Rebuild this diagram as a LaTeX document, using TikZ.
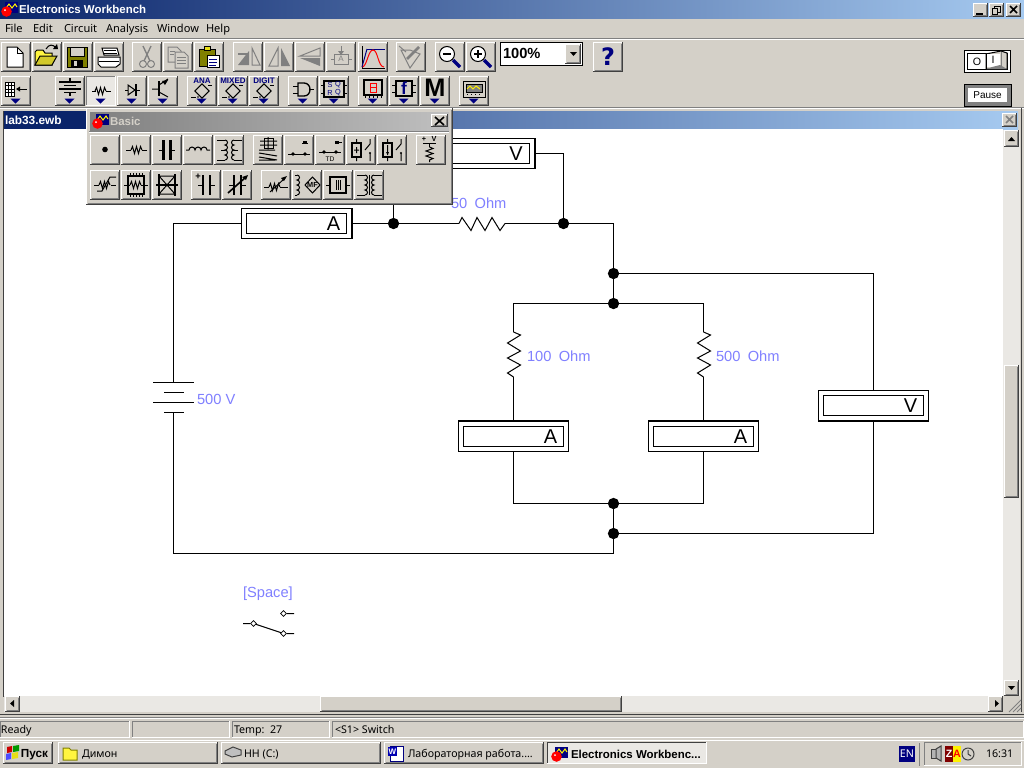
\documentclass[tikz,border=0pt]{standalone}
\usepackage{fontspec}
\setmainfont{Noto Sans}
\newfontfamily\arl{Liberation Sans}
\newfontfamily\djv{DejaVu Sans}
\usetikzlibrary{calc,shapes.geometric}
\definecolor{face}{HTML}{D4D0C8}
\definecolor{dith}{HTML}{EAE8E4}
\definecolor{navyb}{HTML}{0A246A}
\definecolor{skyb}{HTML}{A6CAF0}
\definecolor{lbl}{HTML}{8080FF}
\definecolor{dkb}{HTML}{000080}
\definecolor{olv}{HTML}{808000}
\definecolor{gr}{HTML}{808080}
\definecolor{dk}{HTML}{404040}
\newcommand\fs[1]{\fontsize{#1}{#1}\selectfont}
\newcounter{tc}
\newcommand\TX[4]{\stepcounter{tc}\node[txt,#1] (t\arabic{tc}) at (#2,#3) {#4};}
\newcommand\raised[4]{%
 \fill[face] (#1,#2) rectangle (#3,#4);
 \draw[px,white] (#1+.5,#4-1) -- (#1+.5,#2+.5) -- (#3-1,#2+.5);
 \draw[px,gr] (#1+1.5,#4-1.5) -- (#3-1.5,#4-1.5) -- (#3-1.5,#2+1.5);
 \draw[px,dk] (#1,#4-.5) -- (#3-.5,#4-.5) -- (#3-.5,#2);
}
\newcommand\sunken[4]{%
 \draw[px,gr] (#1+.5,#4) -- (#1+.5,#2+.5) -- (#3,#2+.5);
 \draw[px,white] (#1,#4-.5) -- (#3-.5,#4-.5) -- (#3-.5,#2);
}
\newcommand\TB[3]{\raised{#1}{#2}{#1+30}{#2+30}\begin{scope}[shift={(#1,#2)}]#3\end{scope}}
\newcommand\DA{\fill[dkb] (9.5,22.5)--(19.5,22.5)--(14.5,27.5)--cycle;}
\newcommand\ZZ[2]{\draw[px] (#1,#2)--++(1.5,-3.5)--++(2,7)--++(2,-7)--++(2,7)--++(2,-7)--++(1.5,3.5);}
\newcommand\appicon[2]{\begin{scope}[shift={(#1,#2)}]
 \fill[dkb] (4,.5) rectangle (17,12);
 \draw[px,yellow] (5,7)--(8,3)--(11,7)--(14,3)--(16,6);
 \fill[red] (5.5,10.5) circle (5.3);
 \fill[white] (4,9) circle (1);
\end{scope}}
\newcommand\Meter[5]{% name cx cy letter side
 \node[meter] (#1) at (#2,#3) {};
 \node[meteri] (#1i) at (#2,#3) {};
 \draw[line width=1.5pt] (#1.#5);
 \stepcounter{tc}\node[txt,font=\arl\fs{15}] (t\arabic{tc}) at (#2+37,#3) {#4};
}
\tikzset{
 px/.style={line width=.75pt},
 txt/.style={inner sep=0pt,outer sep=0pt,text=black},
 wire/.style={line width=.75pt,black},
 jn/.style={circle,fill=black,draw=none,minimum size=8.5pt,inner sep=0pt},
 meter/.style={draw=black,line width=.75pt,fill=white,minimum width=82.5pt,minimum height=22.5pt,inner sep=0pt},
 meteri/.style={draw=black,line width=.75pt,fill=white,minimum width=75pt,minimum height=15pt,inner sep=0pt},
 vlab/.style={font=\arl\fs{11},text=lbl},
 ttl/.style={font=\arl\bfseries\fs{8.6},text=white},
 mnu/.style={font=\fs{8.3},anchor=base west},
 sts/.style={font=\fs{8},anchor=base west},
 tbt/.style={font=\fs{8},anchor=base west},
 sdiam/.style={diamond,draw=black,fill=white,line width=.5pt,minimum size=4.5pt,inner sep=0pt},
}
\begin{document}
\begin{tikzpicture}[x=.75pt,y=-.75pt]
\useasboundingbox (0,0) rectangle (1024,768);
\fill[face] (0,0) rectangle (1024,768);
% ---- main title bar
\shade[left color=navyb,right color=skyb] (0,0) rectangle (1024,18);
\appicon{1}{1}
\TX{ttl,anchor=base west}{19}{13}{Electronics Workbench}
\raised{973}{3}{988}{17}\raised{989}{3}{1004}{17}\raised{1006}{3}{1021}{17}
\draw[line width=1.5pt] (976,14)--(983,14);
\draw[px] (994.5,6.5) rectangle (1000.5,12.5);
\draw[px,fill=face] (992.5,8.5) rectangle (997.5,14.5);
\draw[line width=1.1pt] (1010,6)--(1017,13) (1017,6)--(1010,13);
% ---- menu
\TX{mnu}{5}{32}{File}\TX{mnu}{33}{32}{Edit}\TX{mnu}{64}{32}{Circuit}\TX{mnu}{106}{32}{Analysis}\TX{mnu}{157}{32}{Window}\TX{mnu}{206}{32}{Help}
\draw[px,gr] (0,38.5)--(1024,38.5); \draw[px,white] (0,39.5)--(1024,39.5);
% ---- toolbar 1
\TB{1}{42}{\filldraw[px,fill=white] (6,5)--(16,5)--(22,11)--(22,25)--(6,25)--cycle;\draw[px] (16,5)--(16,11)--(22,11);}
\TB{32}{42}{\filldraw[px,fill=yellow!75!white] (3,23)--(3,10)--(5,8)--(11,8)--(13,11)--(20,11)--(20,23)--cycle;\filldraw[px,fill=yellow!60!olv] (3,23)--(8,14)--(25,14)--(20,23)--cycle;\draw[px] (14,7)..controls (17,2) and (21,2) ..(24,6);\fill (21,7)--(26,7)--(25,2)--cycle;}
\TB{63}{42}{\filldraw[px,fill=olv] (4,5) rectangle (24,25);\fill[face] (7,5) rectangle (21,14);\draw[px] (7,5) rectangle (21,14);\fill (8,18) rectangle (20,25);\fill[face] (11,19) rectangle (14,24);}
\TB{94}{42}{\filldraw[px,fill=white] (8,6)--(23,6)--(25,13)--(10,13)--cycle;\filldraw[px,fill=white] (4,15)--(26,15)--(26,22)--(22,25)--(7,25)--(4,22)--cycle;\draw[px] (10,8.5)--(22,8.5)(10,11)--(23,11)(5,19)--(25,19);}
\TB{132}{42}{\draw[line width=1pt,gr] (11,4)--(18,19)(19,4)--(12,19);\draw[px,gr] (11,22) circle (3.5)(19,22) circle (3.5);}
\TB{163}{42}{\filldraw[px,draw=gr,fill=face] (5,5)--(14,5)--(18,9)--(18,20)--(5,20)--cycle;\filldraw[px,draw=gr,fill=face] (12,10)--(21,10)--(25,14)--(25,26)--(12,26)--cycle;\draw[px,gr] (14,15)--(23,15)(14,18)--(23,18)(14,21)--(23,21)(7,9)--(12,9)(7,12)--(11,12);}
\TB{194}{42}{\filldraw[px,fill=olv] (5,7) rectangle (21,24);\filldraw[px,fill=yellow!80!olv] (10,4) rectangle (16,8);\filldraw[px,fill=white] (13,13) rectangle (25,25);\draw[px,dkb] (15,17)--(23,17)(15,20)--(23,20)(15,23)--(22,23);}
\TB{233}{42}{\fill[gr] (5,23)--(16,23)--(16,9)--cycle;\filldraw[px,draw=gr,fill=face] (19,23)--(27,23)--(19,6)--cycle;\draw[line width=1.2pt,gr] (5,12)--(14,12);}
\TB{264}{42}{\filldraw[px,draw=gr,fill=face] (5,24)--(14,24)--(14,6)--cycle;\fill[gr] (17,6)--(17,24)--(26,24)--cycle;}
\TB{295}{42}{\filldraw[px,draw=gr,fill=face] (5,14)--(25,6)--(25,14)--cycle;\fill[gr] (5,16)--(25,16)--(25,24)--cycle;}
\TB{326}{42}{\draw[px,gr] (15,4)--(15,10)(5,17)--(8,17)(22,17)--(26,17);\filldraw[px,draw=gr,fill=face] (8,12) rectangle (22,22);\fill[gr] (12,9)--(18,9)--(15,13)--cycle;\TX{font=\arl\fs{6},text=gr}{15}{17}{A}}
\TB{358}{42}{\draw[px] (4,4)--(4,26)--(27,26);\draw[px,dkb] (9,7)--(27,7);\draw[px,red] (4,25)..controls (9,25) and (10,8) .. (15,8)..controls (20,8) and (20,25)..(26,25);\draw[px,dkb] (4,25)--(9,7);}
\TB{396}{42}{\filldraw[px,draw=gr,fill=face] (5,8)--(14,26)--(24,12)--(14,8)--cycle;\draw[line width=2pt,gr] (11,17)--(23,5);\draw[px,gr] (3,4)--(10,10);}
\TB{435}{42}{\filldraw[px,fill=white] (12,12) circle (7.5);\draw[line width=1pt] (8,12)--(16,12);\draw[line width=2.5pt,dkb] (18,18)--(25,25);}
\TB{466}{42}{\filldraw[px,fill=white] (12,12) circle (7.5);\draw[line width=1pt] (8,12)--(16,12)(12,8)--(12,16);\draw[line width=2.5pt,dkb] (18,18)--(25,25);}
\filldraw[px,fill=white] (500.5,42.5) rectangle (582.5,65.5);
\TX{font=\arl\bfseries\fs{11},anchor=west}{503}{53}{100\%}
\raised{565}{44}{581}{64}\fill (570,52)--(577,52)--(573.5,56)--cycle;
\TB{593}{42}{\TX{font=\djv\bfseries\fs{18},text=dkb}{15}{15}{?}}
% power switch + pause
\filldraw[px,draw=black,fill=white] (964.5,50.5) rectangle (1010.5,72.5);
\draw[px] (967.5,53.5) rectangle (1007.5,69.5);
\filldraw[px,fill=face] (986,54)--(1001,51)--(1007,53)--(1007,69)--(986,69)--cycle;
\fill[white] (987,54) rectangle (1000,67);\draw[px] (986,53.5) -- (986,69);\fill[gr] (987,69)--(1007,69)--(1000,65)--(992,67)--cycle;
\draw[px,gr] (1001,52)--(1001,67);
\TX{font=\arl\fs{8}}{977}{62}{O}\TX{font=\arl\fs{8}}{993}{60}{I}
\filldraw[px,draw=black,fill=gr] (964.5,84.5) rectangle (1011,106);
\fill[white] (968,88) rectangle (1007,102);
\TX{font=\arl\fs{7.5}}{987.5}{95}{Pause}
% ---- toolbar 2
\TB{1}{76}{\DA\filldraw[px,fill=white] (4,6) rectangle (13,20);\draw[px] (7,6)--(7,20)(10,6)--(10,20)(4,9.5)--(13,9.5)(4,13)--(13,13)(4,16.5)--(13,16.5);\draw[px] (16,13)--(26,13);\fill (15,13)--(19,10.5)--(19,15.5)--cycle;}
\TB{55}{76}{\DA\draw[line width=1pt] (15,2)--(15,6)(4,6)--(26,6)(4,13)--(26,13)(15,16)--(15,20);\draw[px] (9,9.5)--(21,9.5)(9,16)--(21,16);}
\fill[dith] (86,76) rectangle (116,106);\draw[px,gr] (86.5,106)--(86.5,76.5)--(116,76.5);\draw[px,white] (86,105.5)--(115.5,105.5)--(115.5,76);
\begin{scope}[shift={(86,76)}]\DA\draw[px] (6,15)--(10,15)(20,15)--(25,15);\ZZ{9}{15}\end{scope}
\TB{117}{76}{\DA\draw[px] (8,14)--(23,14);\filldraw[px,fill=face] (11,9)--(11,19)--(18,14)--cycle;\draw[line width=1pt] (19,8)--(19,20);}
\TB{148}{76}{\DA\draw[line width=1.2pt] (11,5)--(11,20);\draw[px] (4,13)--(11,13)(11,9)--(20,3)(11,16)--(20,21);\fill (20,4)--(14,5)--(17,9)--cycle;}
\newcommand\ChipIc[1]{\DA\TX{font=\arl\bfseries\fs{6},text=dkb}{15}{5}{#1}\draw[px,rotate around={45:(15,15)}] (10,10) rectangle (20,20);\draw[px] (4,21)--(9,21)(21,9)--(25,9);\fill (11,21) circle (.8);}
\TB{187}{76}{\ChipIc{ANA}}
\TB{218}{76}{\ChipIc{MIXED}}
\TB{249}{76}{\ChipIc{DIGIT}}
\TB{288}{76}{\DA\draw[line width=1pt] (10,7)--(16,7)..controls (24,7) and (24,20) .. (16,20)--(10,20)--cycle;\draw[px] (5,10)--(10,10)(5,17)--(10,17)(21,13.5)--(26,13.5);}
\TB{319}{76}{\DA\filldraw[line width=1pt,fill=face] (5,5) rectangle (25,21);\draw[px] (2,9)--(5,9)(2,17)--(5,17)(25,9)--(28,9)(25,17)--(28,17);\TX{font=\arl\fs{5.5},text=dkb}{11}{9}{S}\TX{font=\arl\fs{5.5},text=dkb}{19}{9}{Q}\TX{font=\arl\fs{5.5},text=dkb}{11}{17}{R}\TX{font=\arl\fs{5.5},text=dkb}{19}{17}{Q}}
\TB{358}{76}{\DA\draw[line width=1pt] (6,4) rectangle (24,19);\draw[px,red] (12,7) rectangle (18,11.5)(12,11.5) rectangle (18,16);\draw[px] (7,19)--(7,22)(11,19)--(11,22)(15,19)--(15,22)(19,19)--(19,22)(23,19)--(23,22);}
\TB{389}{76}{\DA\draw[line width=1pt] (7,5) rectangle (23,20);\draw[px] (3,9)--(7,9)(3,16)--(7,16)(23,9)--(27,9)(23,16)--(27,16);\TX{font=\arl\bfseries\fs{13},text=dkb}{15}{12.5}{f}}
\TB{420}{76}{\DA\TX{font=\arl\bfseries\fs{19}}{15}{11.5}{M}}
\TB{459}{76}{\DA\filldraw[px,fill=face] (4,5) rectangle (26,21);\filldraw[px,fill=gr] (7,8) rectangle (23,16);\draw[px,yellow] (8,13)--(11,10)--(14,13)--(17,10)--(21,13);\draw[px] (8,18)--(9,18)(12,18)--(13,18)(16,18)--(17,18)(20,18)--(21,18);}
\draw[px,gr] (0,107.5)--(1024,107.5); \draw[px,white] (0,108.5)--(1024,108.5);
% ---- document window
\shade[left color=navyb!90!skyb,right color=skyb] (3,111) rectangle (1018,129);
\fill[navyb] (3,111) rectangle (86,129);
\TX{font=\arl\bfseries\fs{8.9},text=white,anchor=base west}{5}{124}{lab33.ewb}
\raised{1002}{113}{1017}{127}\draw[line width=1.1pt,gr] (1006,116)--(1013,123)(1013,116)--(1006,123);
\fill[white] (4,129) rectangle (1003,696);
\draw[px,dk] (3.5,111)--(3.5,697);
\draw[px,dk] (1021.5,108)--(1021.5,712);
% scrollbars
\fill[dith] (1003,130) rectangle (1020,696);
\raised{1004}{130}{1019}{147}\fill (1008,141)--(1015,141)--(1011.5,137)--cycle;
\raised{1004}{365}{1019}{498}
\raised{1004}{680}{1019}{696}\fill (1008,686)--(1015,686)--(1011.5,690)--cycle;
\fill[dith] (4,696) rectangle (1003,712);
\raised{5}{696}{20}{712}\fill (14,700)--(14,707)--(10,703.5)--cycle;
\raised{320}{696}{622}{712}
\raised{988}{696}{1003}{712}\fill (995,700)--(995,707)--(999,703.5)--cycle;
\fill[face] (1003,696) rectangle (1021,712);
\draw[px,gr] (1009,712)--(1021,700)(1013,712)--(1021,704)(1017,712)--(1021,708);
\draw[px,dk] (0,714.5)--(1024,714.5);
\draw[px,gr] (0,717.5)--(1024,717.5);\draw[px,white] (0,718.5)--(1024,718.5);
% ---- circuit
\begin{scope}
\node[jn] (j1) at (393.5,223.5) {};
\node[jn] (j2) at (563.5,223.5) {};
\node[jn] (j3) at (613.5,273.5) {};
\node[jn] (j4) at (613.5,303.5) {};
\node[jn] (j5) at (613.5,503.5) {};
\node[jn] (j6) at (613.5,533.5) {};
\coordinate (batt) at (173.5,382.5);
\coordinate (batb) at (173.5,412.5);
\coordinate (cTL) at (173.5,223.5);
\coordinate (cBL) at (173.5,553.5);
\coordinate (cBR) at (613.5,553.5);
\coordinate (cTR) at (613.5,223.5);
\coordinate (r0a) at (459,223.5);\coordinate (r0b) at (505,223.5);
\coordinate (r1a) at (513.5,332);\coordinate (r1b) at (513.5,377);
\coordinate (r2a) at (703.5,332);\coordinate (r2b) at (703.5,377);
\Meter{am0}{296.5}{223.5}{A}{north east) -- (am0.south east}
\Meter{vm0}{479}{153.5}{V}{north east) -- (vm0.south east}
\Meter{am1}{513.5}{436.5}{A}{north west) -- (am1.north east}
\Meter{am2}{703.5}{436.5}{A}{north west) -- (am2.north east}
\Meter{vm1}{873.5}{405.5}{V}{south west) -- (vm1.south east}
% wires
\draw[wire] (am0.west) -- (cTL) -- (batt);
\draw[wire] (batb) -- (cBL) -- (cBR) -- (j6);
\draw[wire] (am0.east) -- (j1) -- (r0a);
\draw[wire] (r0b) -- (j2) -- (cTR) -- (j3) -- (j4);
\draw[wire] (j1) |- (vm0.west);
\draw[wire] (vm0.east) -| (j2);
\draw[wire] (j3) -| (vm1.north);
\draw[wire] (vm1.south) |- (j6);
\draw[wire] (j5) -- (j6);
\draw[wire] (j4) -| (r1a);
\draw[wire] (j4) -| (r2a);
\draw[wire] (r1b) -- (am1.north);
\draw[wire] (r2b) -- (am2.north);
\draw[wire] (am1.south) |- (j5);
\draw[wire] (am2.south) |- (j5);
% resistors
\draw[px] (r0a)--++(3,-6)--++(9,13)--++(6,-13)--++(8,13)--++(7,-13)--++(8,13)--(r0b);
\draw[px] (r1a)--++(7,3)--++(-13,8)--++(13,8)--++(-13,7)--++(13,7)--++(-13,8)--(r1b);
\draw[px] (r2a)--++(7,3)--++(-13,8)--++(13,8)--++(-13,7)--++(13,7)--++(-13,8)--(r2b);
% battery
\draw[px] (153,382.5)--(194,382.5)(164,392.5)--(184,392.5)(153,402.5)--(194,402.5)(164,412.5)--(184,412.5);
% labels
\node[txt,vlab,anchor=west] (l0) at (451,203) {50\,\,\,Ohm};
\node[txt,vlab,anchor=west] (l1) at (527,356) {100\,\,\,Ohm};
\node[txt,vlab,anchor=west] (l2) at (716,356) {500\,\,\,Ohm};
\node[txt,vlab,anchor=west] (l3) at (197,399) {500 V};
\node[txt,vlab,anchor=west] (l4) at (243,593.5) {[Space]};
% switch
\node[sdiam] (s1) at (253.5,623.5) {};
\node[sdiam] (s2) at (283.5,633.5) {};
\node[sdiam] (s3) at (283.5,613.5) {};
\coordinate (sa) at (243,623.5);\coordinate (sb) at (294,633.5);\coordinate (sc) at (294,613.5);
\draw[px] (sa)--(s1)(s1)--(s2)(s2)--(sb)(s3)--(sc);
\end{scope}
% ---- Basic palette
\raised{86}{108}{453}{205}
\shade[left color=gr,right color=gr!50!white] (90,112) rectangle (449,130);
\appicon{92}{113}
\TX{font=\arl\bfseries\fs{8.6},text=face,anchor=base west}{110}{125}{Basic}
\raised{431}{114}{448}{127}\draw[line width=1.2pt] (435,117)--(444,125)(444,117)--(435,125);
\draw[px,gr] (89,131.5)--(449,131.5);\draw[px,white] (89,132.5)--(449,132.5);
\TB{90}{135}{\fill (15,14.5) circle (2.8);}
\TB{121}{135}{\draw[px] (5,15)--(10,15)(21,15)--(26,15);\ZZ{10}{15}}
\TB{152}{135}{\draw[line width=2.2pt] (11.5,5)--(11.5,25)(18.5,5)--(18.5,25);\draw[px] (7,15)--(10,15)(20,15)--(23,15);}
\TB{183}{135}{\draw[px] (3,15)--(6,15) arc[start angle=180,end angle=360,radius=3] arc[start angle=180,end angle=360,radius=3] arc[start angle=180,end angle=360,radius=3]--(27,15);}
\newcommand\CoilL[1]{\draw[px] (#1,5) arc[start angle=-90,end angle=90,radius=2.5] arc[start angle=-90,end angle=90,radius=2.5] arc[start angle=-90,end angle=90,radius=2.5] arc[start angle=-90,end angle=90,radius=2.5];}
\newcommand\CoilR[1]{\draw[px] (#1,5) arc[start angle=270,end angle=90,radius=2.5] arc[start angle=270,end angle=90,radius=2.5] arc[start angle=270,end angle=90,radius=2.5] arc[start angle=270,end angle=90,radius=2.5];}
\TB{214}{135}{\CoilL{11}\CoilR{20}\draw[px] (3,5)--(11,5)(3,25)--(11,25)(20,5)--(28,5)(20,25)--(28,25)(11,15)--(7,15)(20,15)--(24,15);}
\TB{253}{135}{\filldraw[px,fill=face] (11,3) rectangle (20,13);\draw[px] (15,2)--(15,14)(7,6)--(24,6)(7,10)--(24,10)(6,15)--(22,15)(6,18)--(24,21)(6,22)--(24,25)(6,25)--(22,25);}
\TB{284}{135}{\draw[px] (4,19)--(26,19);\fill (9,19) circle (1.8)(21,19) circle (1.8);\draw[px] (18,8)--(24,8);\fill (19,8)--(23,8)--(23,6)--(19,6)--cycle;}
\TB{315}{135}{\draw[px] (4,17)--(26,17);\fill (9,17) circle (1.8)(21,17) circle (1.8);\fill (20,6) rectangle (24,9);\draw[px] (20,7.5)--(27,7.5);\TX{font=\arl\fs{5}}{15}{24}{TD}}
\TB{346}{135}{\draw[line width=1pt] (6,8) rectangle (15,22);\draw[px] (8,15)--(13,15)(10.5,12)--(10.5,18)(10.5,4)--(10.5,8)(10.5,22)--(10.5,26)(24,4)--(24,9)--(19,15)(24,18)--(24,26);\fill (24,18) circle (1.2);}
\TB{377}{135}{\draw[line width=1pt] (6,8) rectangle (15,22);\draw[px] (10.5,10)--(10.5,20)(10.5,4)--(10.5,8)(10.5,22)--(10.5,26)(24,4)--(24,9)--(19,15)(24,18)--(24,26);\fill (9,17)--(12,17)--(10.5,20)--cycle;\fill (24,18) circle (1.2);}
\TB{416}{135}{\draw[px] (7,8)--(20,8)(13.5,8)--(13.5,12);\TX{font=\arl\bfseries\fs{5.5}}{8}{4}{+}\TX{font=\arl\bfseries\fs{5.5}}{18}{4}{V}\draw[px] (13.5,12)--(17,13.5)--(10,16)--(17,18.5)--(10,21)--(17,23.5)--(13.5,25)--(13.5,27);}
\TB{90}{170}{\draw[px] (4,15)--(9,15)(21,15)--(26,15);\ZZ{9}{15}\draw[px] (7,21)--(12,21)--(20,7)--(26,7);}
\TB{121}{170}{\draw[line width=1pt] (7,6) rectangle (23,24);\draw[px] (9,3)--(9,6)(12,3)--(12,6)(15,3)--(15,6)(18,3)--(18,6)(21,3)--(21,6)(9,24)--(9,27)(12,24)--(12,27)(15,24)--(15,27)(18,24)--(18,27)(21,24)--(21,27)(3,15)--(9,15)(20,15)--(27,15);\ZZ{9}{15}}
\TB{152}{170}{\draw[line width=1pt] (4,15)--(26,15);\draw[px] (7,6)--(23,6)--(15,15)--cycle(7,24)--(23,24)--(15,15)--cycle;\draw[line width=1pt] (7,4)--(7,26)(23,4)--(23,26);}
\TB{191}{170}{\draw[line width=2.2pt] (12,5)--(12,25)(19,5)--(19,25);\draw[px] (7,15)--(11,15)(20,15)--(24,15);\TX{font=\arl\bfseries\fs{7}}{7}{7}{+}}
\TB{222}{170}{\draw[line width=2.2pt] (12,5)--(12,25)(19,5)--(19,25);\draw[px] (7,15)--(11,15)(20,15)--(24,15);\draw[line width=1.2pt] (6,23)--(24,7);\fill (26,5)--(20,7)--(24,10)--cycle;}
\TB{261}{170}{\draw[px] (3,17)--(8,17)(19,17)--(27,17);\ZZ{8}{17}\draw[px] (9,22)--(24,8);\fill (26,6)--(20,8)--(23,11)--cycle;}
\TB{292}{170}{\CoilL{5}\draw[px] (3,5)--(5,5)(3,25)--(5,25);\draw[px] (13,15)--(20.5,7)--(28,15)--(20.5,23)--cycle;\TX{font=\arl\bfseries\fs{5.5}}{20.5}{15}{MF}}
\TB{323}{170}{\draw[line width=1pt] (7,7) rectangle (23,23);\draw[px] (3,15)--(7,15)(23,15)--(27,15);\draw[px] (13,10)--(13,20)(15,10)--(15,20)(17,10)--(17,20);}
\TB{354}{170}{\CoilL{11}\CoilR{20}\draw[px] (3,5)--(11,5)(3,25)--(11,25)(20,5)--(28,5)(20,25)--(28,25);\draw[px] (15.5,5)--(15.5,25);}
% ---- status bar
\newcommand\Pan[4]{\sunken{#1}{721}{#2}{738}\TX{sts}{#3}{733}{#4}}
\Pan{0}{130}{1}{Ready}
\Pan{132}{230}{134}{}
\Pan{232}{330}{234}{Temp:\ \ 27}
\Pan{332}{1024}{335}{<S1> Switch}
\draw[px,white] (0,740.5)--(1024,740.5);
% ---- task bar
\raised{3}{742}{53}{764}
\begin{scope}[shift={(5,744)}]
\fill[red!80!black] (2,3)--(7,2)--(7,8)--(2,9)--cycle;\fill[green!60!black] (8,2)--(14,1)--(14,7)--(8,8)--cycle;\fill[blue!70!white] (1,10)--(6,9)--(6,15)--(1,16)--cycle;\fill[yellow!90!black] (7,9)--(13,8)--(13,14)--(7,15)--cycle;
\end{scope}
\TX{font=\arl\bfseries\fs{8.8},anchor=base west}{21}{757}{Пуск}
\raised{58}{742}{218}{764}
\filldraw[px,fill=yellow!75!white,draw=olv] (63,748)--(69,748)--(71,750)--(77,750)--(77,760)--(63,760)--cycle;
\TX{tbt}{82}{757}{Димон}
\raised{221}{742}{381}{764}
\filldraw[px,draw=dk,fill=gr!50!white] (225,751)--(233,747)--(241,750)--(241,755)--(232,757)--(225,754)--cycle;
\TX{tbt}{244}{757}{HH (C:)}
\raised{384}{742}{544}{764}
\filldraw[px,draw=dkb,fill=white] (390,746) rectangle (403,761);\fill[blue!70!black] (388,747) rectangle (397,756);\TX{font=\arl\bfseries\fs{6},text=white}{392.5}{751.5}{W}
\TX{tbt}{408}{757}{Лабораторная работа....}
\fill[dith] (547,742) rectangle (707,764);
\draw[px,dk] (547.5,764)--(547.5,742.5)--(707,742.5);\draw[px,white] (547,763.5)--(706.5,763.5)--(706.5,742);
\appicon{551}{746}
\TX{font=\arl\bfseries\fs{8.6},anchor=base west}{571}{758}{Electronics Workbenc...}
\fill[dkb] (899,746) rectangle (915,762);
\TX{font=\fs{8},text=white}{907}{754}{EN}
\draw[px,gr] (919.5,743)--(919.5,766);
\sunken{924}{742}{1022}{766}
\filldraw[px,draw=dk,fill=gr!60!white] (931,749) rectangle (936,758);\filldraw[px,draw=dk,fill=gr!60!white] (936,749)--(941,746)--(941,761)--(936,758)--cycle;
\fill[red!50!black] (945,746) rectangle (953,762);\fill[yellow] (953,746) rectangle (961,762);
\TX{font=\arl\bfseries\fs{8},text=white}{949}{754}{Z}\TX{font=\arl\bfseries\fs{8},text=red}{957}{754}{A}
\draw[px,dk] (968,754) circle (6);\draw[px,dk] (968,750)--(968,754)--(971,756);
\TX{font=\fs{8},anchor=west}{986}{754}{16:31}
\end{tikzpicture}
\end{document}
